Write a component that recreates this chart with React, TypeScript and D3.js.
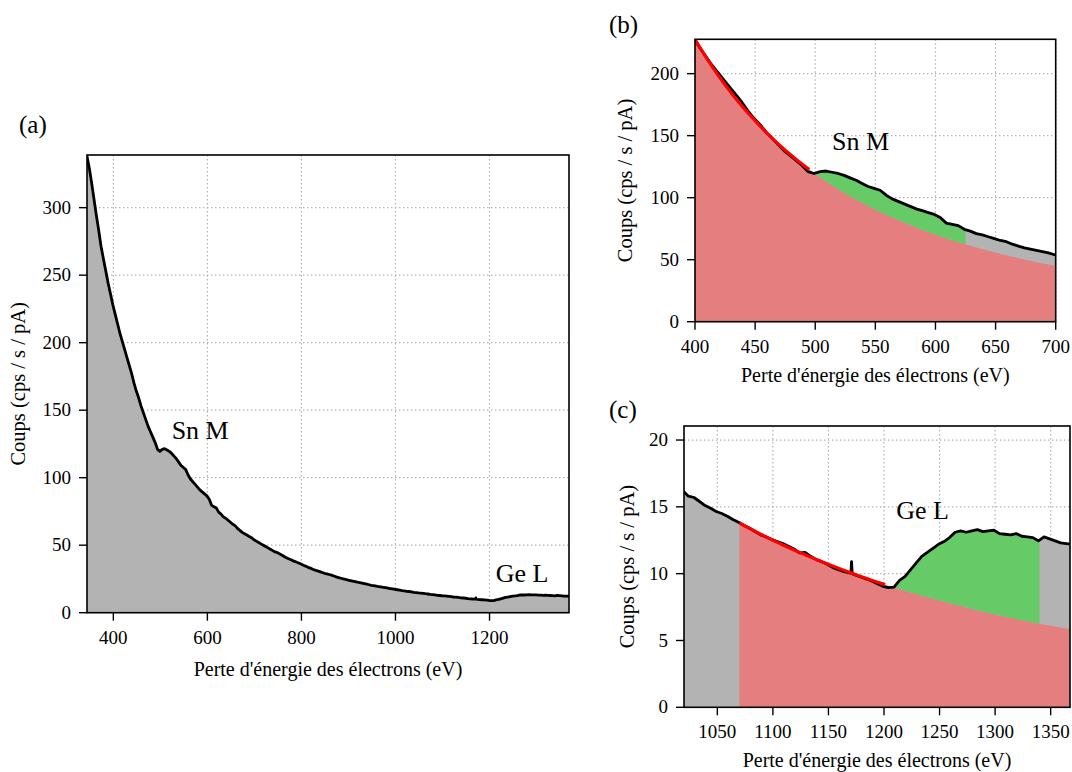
import React from "react";
import * as d3 from "d3";

// ---------- DATA ----------
// Spectrum sampled every 5 eV from 344 eV to 1369 eV (counts / s / pA)
const E_START = 344;
const E_STEP = 5;
const counts = [
  338, 329, 318, 306, 294, 283, 271, 262, 253, 244,
  236, 228, 221, 214, 207, 201, 195, 189, 183, 177,
  170, 164, 159, 153, 148, 143, 138, 134, 130, 126,
  121, 119.5, 121, 121.5, 120.5, 119.5, 118, 116, 114, 111.5,
  109, 107.5, 106, 102, 99, 97, 95, 93, 91, 89.5,
  88, 86.5, 84, 79.5, 78.5, 77.5, 74.5, 73, 71, 70,
  68.5, 67, 65.5, 64.5, 62.5, 61, 59.5, 58.5, 57.5, 56.5,
  55.5, 54, 53, 52, 51, 50, 49, 48, 47, 46,
  45, 44.5, 43.5, 42.5, 41.5, 40.5, 39.8, 39, 38.2, 37.5,
  36.8, 36, 35.2, 34.5, 33.6, 33, 32.2, 31.5, 31, 30.4,
  29.8, 29.2, 28.8, 28.3, 27.8, 27.2, 26.5, 26, 25.5, 25,
  24.6, 24.2, 23.8, 23.4, 23, 22.6, 22.3, 21.9, 21.5, 21.1,
  20.7, 20.3, 20, 19.7, 19.4, 19.1, 18.8, 18.5, 18.2, 17.9,
  17.6, 17.3, 17.0, 16.7, 16.4, 16.2, 15.8, 15.7, 15.4, 15.1,
  14.9, 14.65, 14.5, 14.3, 14.05, 13.85, 13.6, 13.4, 13.15, 12.9,
  12.75, 12.55, 12.4, 12.25, 12.05, 11.85, 11.55, 11.6, 11.3, 11.05,
  10.9, 10.7, 10.45, 10.3, 10.15, 10.05, 9.9, 9.75, 9.6, 9.45,
  9.25, 9.05, 8.95, 9.0, 9.5, 9.8, 10.3, 10.8, 11.3, 11.6,
  11.9, 12.2, 12.4, 12.7, 13.1, 13.2, 13.1, 13.2, 13.3, 13.15,
  13.2, 13.25, 13.0, 12.95, 12.9, 13.0, 12.8, 12.75, 12.7, 12.45,
  12.75, 12.6, 12.45, 12.3, 12.25, 12.2,
];
// narrow glitch in the spectrum near 1171 eV
const glitchEnergy = [1170.2, 1170.8, 1171.4];
const glitchCounts = [10.05, 10.9, 10.0];

// Fitted background under Sn M (panel b)
const bgSnEnergy = [400, 425, 450, 475, 500, 525, 550, 575, 600, 625, 650, 675, 700];
const bgSnCounts = [227.7, 191, 162, 138.3, 119.2, 103.4, 90.4, 79.5, 70.2, 62.3, 55.7, 49.9, 44.9];
// Fitted background under Ge L (panel c)
const bgGeEnergy = [1070, 1100, 1150, 1200, 1250, 1300, 1340, 1367.4];
const bgGeCounts = [13.8, 12.5, 10.7, 9.2, 8.0, 6.95, 6.25, 5.85];

// Windows (eV)
const snFitWindow = [400, 495];
const snSignalWindow = [500, 625];
const geFitWindow = [1070, 1201];
const geSignalWindow = [1205, 1340];

// Ticks
const xTicksA = [400, 600, 800, 1000, 1200];
const yTicksA = [0, 50, 100, 150, 200, 250, 300];
const xTicksB = [400, 450, 500, 550, 600, 650, 700];
const yTicksB = [0, 50, 100, 150, 200];
const xTicksC = [1050, 1100, 1150, 1200, 1250, 1300, 1350];
const yTicksC = [0, 5, 10, 15, 20];

const X_LABEL = "Perte d'énergie des électrons (eV)";
const Y_LABEL = "Coups (cps / s / pA)";

// ---------- HELPERS ----------
const spectrum: [number, number][] = counts
  .map((c, i) => [E_START + i * E_STEP, c] as [number, number])
  .concat(glitchEnergy.map((e, i) => [e, glitchCounts[i]] as [number, number]))
  .sort((a, b) => a[0] - b[0]);

function specAt(e: number): number {
  const i = d3.bisector((d: [number, number]) => d[0]).right(spectrum, e);
  if (i <= 0) return spectrum[0][1];
  if (i >= spectrum.length) return spectrum[spectrum.length - 1][1];
  const [e0, c0] = spectrum[i - 1];
  const [e1, c1] = spectrum[i];
  return c0 + ((c1 - c0) * (e - e0)) / (e1 - e0);
}

function makeBg(es: number[], cs: number[]) {
  return (e: number) => {
    let i = d3.bisectRight(es, e) - 1;
    i = Math.max(0, Math.min(es.length - 2, i));
    const t = (Math.log(e) - Math.log(es[i])) / (Math.log(es[i + 1]) - Math.log(es[i]));
    return Math.exp(Math.log(cs[i]) + t * (Math.log(cs[i + 1]) - Math.log(cs[i])));
  };
}
const bgSn = makeBg(bgSnEnergy, bgSnCounts);
const bgGe = makeBg(bgGeEnergy, bgGeCounts);

const FONT = "'Liberation Serif', 'Times New Roman', Times, serif";
const GREY = "#b3b3b3";
const REDFILL = "#e57e7e";
const GREENFILL = "#66cb66";

type Layer = {
  bg: (e: number) => number;
  bgRange: [number, number];
  fit: number[];
  signal: number[];
};

type PanelProps = {
  id: string;
  left: number;
  top: number;
  right: number;
  bottom: number;
  xDomain: [number, number];
  yDomain: [number, number];
  xTicks: number[];
  yTicks: number[];
  tag: string;
  tagX: number;
  tagY: number;
  xLabelY: number;
  yLabelX: number;
  annotations: { text: string; x: number; y: number }[];
  layer?: Layer;
};

function Panel(p: PanelProps) {
  const x = d3.scaleLinear().domain(p.xDomain).range([p.left, p.right]);
  const y = d3.scaleLinear().domain(p.yDomain).range([p.bottom, p.top]);
  const line = d3.line<[number, number]>().x((d) => x(d[0])).y((d) => y(d[1]));
  const areaUnder = d3
    .area<[number, number]>()
    .x((d) => x(d[0]))
    .y0(y(0))
    .y1((d) => y(d[1]));
  const areaBetween = d3
    .area<[number, number, number]>()
    .x((d) => x(d[0]))
    .y0((d) => y(d[1]))
    .y1((d) => y(d[2]));

  let red: string | null = null;
  let green: string | null = null;
  let fitLine: string | null = null;
  if (p.layer) {
    const L = p.layer;
    const bgPts = d3
      .range(L.bgRange[0], L.bgRange[1] + 0.001, 1)
      .map((e) => [e, L.bg(e)] as [number, number]);
    red = areaUnder(bgPts);
    const sigPts = d3
      .range(L.signal[0], L.signal[1] + 0.001, 0.5)
      .map((e) => [e, L.bg(e), Math.max(L.bg(e), specAt(e))] as [number, number, number]);
    green = areaBetween(sigPts);
    const fitPts = d3
      .range(L.fit[0], L.fit[1] + 0.001, 1)
      .map((e) => [e, L.bg(e)] as [number, number]);
    fitLine = line(fitPts);
  }

  const clipId = `clip-${p.id}`;
  const w = p.right - p.left;
  const h = p.bottom - p.top;
  return (
    <g>
      <defs>
        <clipPath id={clipId}>
          <rect x={p.left} y={p.top} width={w} height={h} />
        </clipPath>
      </defs>
      {/* grid */}
      <g stroke="#b0b0b0" strokeWidth={1.2} strokeDasharray="1.4,2.6">
        {p.xTicks.map((t) => (
          <line key={"gx" + t} x1={x(t)} x2={x(t)} y1={p.top} y2={p.bottom} />
        ))}
        {p.yTicks.map((t) => (
          <line key={"gy" + t} x1={p.left} x2={p.right} y1={y(t)} y2={y(t)} />
        ))}
      </g>
      <g clipPath={`url(#${clipId})`}>
        <path d={areaUnder(spectrum) || ""} fill={GREY} />
        {red && <path d={red} fill={REDFILL} />}
        {green && <path d={green} fill={GREENFILL} />}
        <path d={line(spectrum) || ""} fill="none" stroke="#000" strokeWidth={2.8} strokeLinejoin="round" />
        {fitLine && <path d={fitLine} fill="none" stroke="#ff0000" strokeWidth={3.2} />}
      </g>
      {/* frame */}
      <rect x={p.left} y={p.top} width={w} height={h} fill="none" stroke="#000" strokeWidth={1.6} />
      {/* ticks */}
      <g stroke="#000" strokeWidth={1.4}>
        {p.xTicks.map((t) => (
          <line key={"tx" + t} x1={x(t)} x2={x(t)} y1={p.bottom} y2={p.bottom + 8} />
        ))}
        {p.yTicks.map((t) => (
          <line key={"ty" + t} x1={p.left - 8} x2={p.left} y1={y(t)} y2={y(t)} />
        ))}
      </g>
      <g fontFamily={FONT} fontSize={19} fill="#000">
        {p.xTicks.map((t) => (
          <text key={"lx" + t} x={x(t)} y={p.bottom + 31} textAnchor="middle">
            {t}
          </text>
        ))}
        {p.yTicks.map((t) => (
          <text key={"ly" + t} x={p.left - 16} y={y(t)} dy="0.32em" textAnchor="end">
            {t}
          </text>
        ))}
      </g>
      <text
        x={(p.left + p.right) / 2}
        y={p.xLabelY}
        textAnchor="middle"
        fontFamily={FONT}
        fontSize={20}
      >
        {X_LABEL}
      </text>
      <text
        transform={`translate(${p.yLabelX},${(p.top + p.bottom) / 2}) rotate(-90)`}
        textAnchor="middle"
        fontFamily={FONT}
        fontSize={20.5}
      >
        {Y_LABEL}
      </text>
      {p.annotations.map((a) => (
        <text key={a.text} x={x(a.x)} y={y(a.y)} fontFamily={FONT} fontSize={26}>
          {a.text}
        </text>
      ))}
      <text x={p.tagX} y={p.tagY} fontFamily={FONT} fontSize={25}>
        {p.tag}
      </text>
    </g>
  );
}

export default function App() {
  return (
    <svg
      width={1072}
      height={772}
      style={{ position: "absolute", left: 0, top: 0, background: "#fff" }}
    >
      <Panel
        id="a"
        left={87}
        top={155}
        right={569}
        bottom={612.7}
        xDomain={[344, 1369]}
        yDomain={[0, 339]}
        xTicks={xTicksA}
        yTicks={yTicksA}
        tag="(a)"
        tagX={19}
        tagY={133}
        xLabelY={676}
        yLabelX={24.5}
        annotations={[
          { text: "Sn M", x: 524, y: 129 },
          { text: "Ge L", x: 1213, y: 23 },
        ]}
      />
      <Panel
        id="b"
        left={695}
        top={39.3}
        right={1055.7}
        bottom={321.7}
        xDomain={[400, 700]}
        yDomain={[0, 227.7]}
        xTicks={xTicksB}
        yTicks={yTicksB}
        tag="(b)"
        tagX={609}
        tagY={33}
        xLabelY={382}
        yLabelX={632.3}
        annotations={[{ text: "Sn M", x: 514, y: 138.5 }]}
        layer={{ bg: bgSn, bgRange: [400, 700], fit: snFitWindow, signal: snSignalWindow }}
      />
      <Panel
        id="c"
        left={684}
        top={426}
        right={1070}
        bottom={707.3}
        xDomain={[1020, 1367.4]}
        yDomain={[0, 21.05]}
        xTicks={xTicksC}
        yTicks={yTicksC}
        tag="(c)"
        tagX={609}
        tagY={418}
        xLabelY={767}
        yLabelX={633.5}
        annotations={[{ text: "Ge L", x: 1211, y: 14.1 }]}
        layer={{ bg: bgGe, bgRange: [1070, 1367.4], fit: geFitWindow, signal: geSignalWindow }}
      />
    </svg>
  );
}
